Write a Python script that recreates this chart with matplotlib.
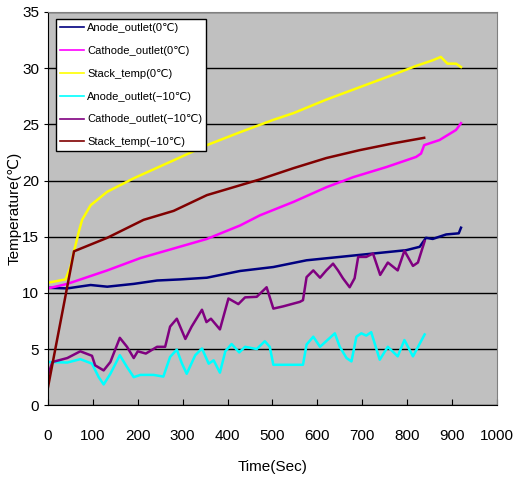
import matplotlib
matplotlib.use("Agg")
from matplotlib import pyplot as plt

plt.rcParams['font.family'] = ['Liberation Sans', 'DejaVu Sans']

# time (sec) and temperature (C)
t_anode0 = [0, 43, 95, 132, 191, 243, 295, 354, 428, 502, 576, 650, 724, 798, 828, 842, 857, 887, 915, 920]
y_anode0 = [10.45, 10.4, 10.7, 10.55, 10.8, 11.1, 11.2, 11.35, 11.95, 12.3, 12.9, 13.2, 13.5, 13.8, 14.1, 14.9, 14.8, 15.2, 15.3, 15.8]

t_cath0 = [0, 43, 132, 206, 280, 354, 428, 472, 547, 620, 680, 754, 820, 831, 838, 872, 909, 920]
y_cath0 = [10.4, 10.8, 12.0, 13.1, 13.95, 14.8, 16.0, 16.9, 18.1, 19.4, 20.3, 21.2, 22.1, 22.4, 23.15, 23.6, 24.5, 25.1]

t_stack0 = [0, 39, 50, 58, 69, 76, 95, 132, 191, 280, 354, 428, 502, 547, 620, 694, 768, 820, 857, 875, 890, 909, 920]
y_stack0 = [10.9, 11.2, 12.3, 13.7, 15.5, 16.5, 17.8, 19.0, 20.2, 21.8, 23.15, 24.3, 25.4, 26.0, 27.2, 28.3, 29.4, 30.2, 30.7, 31.0, 30.4, 30.4, 30.1]

t_anode10 = [0, 43, 72, 98, 113, 124, 139, 160, 176, 191, 206, 235, 257, 272, 287, 298, 309, 328, 343, 358, 369, 383, 395, 409,
             426, 439, 465, 483, 494, 502, 531, 568, 576, 591, 606, 628, 639, 650, 665, 676, 687, 698, 709, 720, 739, 757,
             779, 794, 813, 839]
y_anode10 = [3.85, 3.8, 4.1, 3.7, 2.5, 1.85, 2.8, 4.45, 3.4, 2.5, 2.7, 2.7, 2.55, 4.3, 4.95, 3.75, 2.8, 4.45, 5.05, 3.7, 4.0, 2.9, 4.8, 5.45,
             4.7, 5.2, 5.0, 5.7, 5.2, 3.6, 3.6, 3.6, 5.4, 6.1, 5.2, 6.0, 6.4, 5.2, 4.2, 3.9, 6.1, 6.4, 6.2, 6.5, 4.05, 5.2,
             4.35, 5.8, 4.35, 6.3]

t_cath10 = [0, 10, 43, 72, 98, 105, 124, 139, 160, 176, 191, 200, 218, 243, 261, 272, 287, 306, 320, 343, 353, 363, 383, 402,
            424, 439, 465, 487, 502, 524, 561, 568, 576, 591, 606, 620, 635, 646, 657, 672, 683, 691, 709, 724, 740, 757,
            779, 794, 813, 824, 839]
y_cath10 = [2.7, 3.85, 4.2, 4.8, 4.4, 3.55, 3.1, 3.85, 6.0, 5.2, 4.2, 4.8, 4.6, 5.2, 5.2, 7.0, 7.7, 5.9, 7.0, 8.5, 7.4, 7.7, 6.75, 9.5,
            9.0, 9.6, 9.65, 10.5, 8.6, 8.8, 9.2, 9.35, 11.4, 12.0, 11.35, 12.0, 12.6, 12.0, 11.3, 10.5, 11.3, 13.2, 13.2, 13.5, 11.6, 12.7,
            12.0, 13.75, 12.4, 12.7, 14.6]

t_stack10 = [0, 58, 132, 213, 280, 354, 472, 547, 620, 694, 768, 838]
y_stack10 = [1.6, 13.7, 14.9, 16.5, 17.3, 18.7, 20.1, 21.1, 22.0, 22.7, 23.3, 23.8]

series = [
    (t_anode0, y_anode0, '#000080', 'Anode_outlet(0℃)'),
    (t_cath0, y_cath0, '#FF00FF', 'Cathode_outlet(0℃)'),
    (t_stack0, y_stack0, '#FFFF00', 'Stack_temp(0℃)'),
    (t_anode10, y_anode10, '#00FFFF', 'Anode_outlet(−10℃)'),
    (t_cath10, y_cath10, '#800080', 'Cathode_outlet(−10℃)'),
    (t_stack10, y_stack10, '#800000', 'Stack_temp(−10℃)'),
]

fig = plt.figure(figsize=(5.16, 4.79), dpi=100)
ax = fig.add_axes([0.093, 0.154, 0.870, 0.821])
ax.set_facecolor('#C0C0C0')

for t, y, c, lab in series:
    ax.plot(t, y, color=c, lw=1.8, label=lab)

ax.set_xlim(0, 1000)
ax.set_ylim(0, 35)
ax.set_xticks(range(0, 1001, 100))
ax.set_yticks(range(0, 36, 5))
ax.yaxis.grid(True, color='black', lw=1)
ax.set_axisbelow(True)
ax.tick_params(axis='x', direction='in', length=4, labelsize=11, pad=17)
ax.tick_params(axis='y', direction='out', length=3, labelsize=11)
for s in ['top', 'right']:
    ax.spines[s].set_color('#808080')
for s in ['left', 'bottom']:
    ax.spines[s].set_color('black')

ax.set_xlabel('Time(Sec)', fontsize=11, labelpad=12)
ax.set_ylabel('Temperature(℃)', fontsize=11, labelpad=0)

leg = ax.legend(loc='upper left', bbox_to_anchor=(0.005, 0.995), fontsize=8, frameon=True, fancybox=False,
                edgecolor='black', framealpha=1, handlelength=2.2, borderpad=0.35, labelspacing=1.15, handletextpad=0.3)
leg.get_frame().set_linewidth(1.0)
for ln in leg.get_lines():
    ln.set_linewidth(1.2)

fig.savefig('out.png', dpi=100)
